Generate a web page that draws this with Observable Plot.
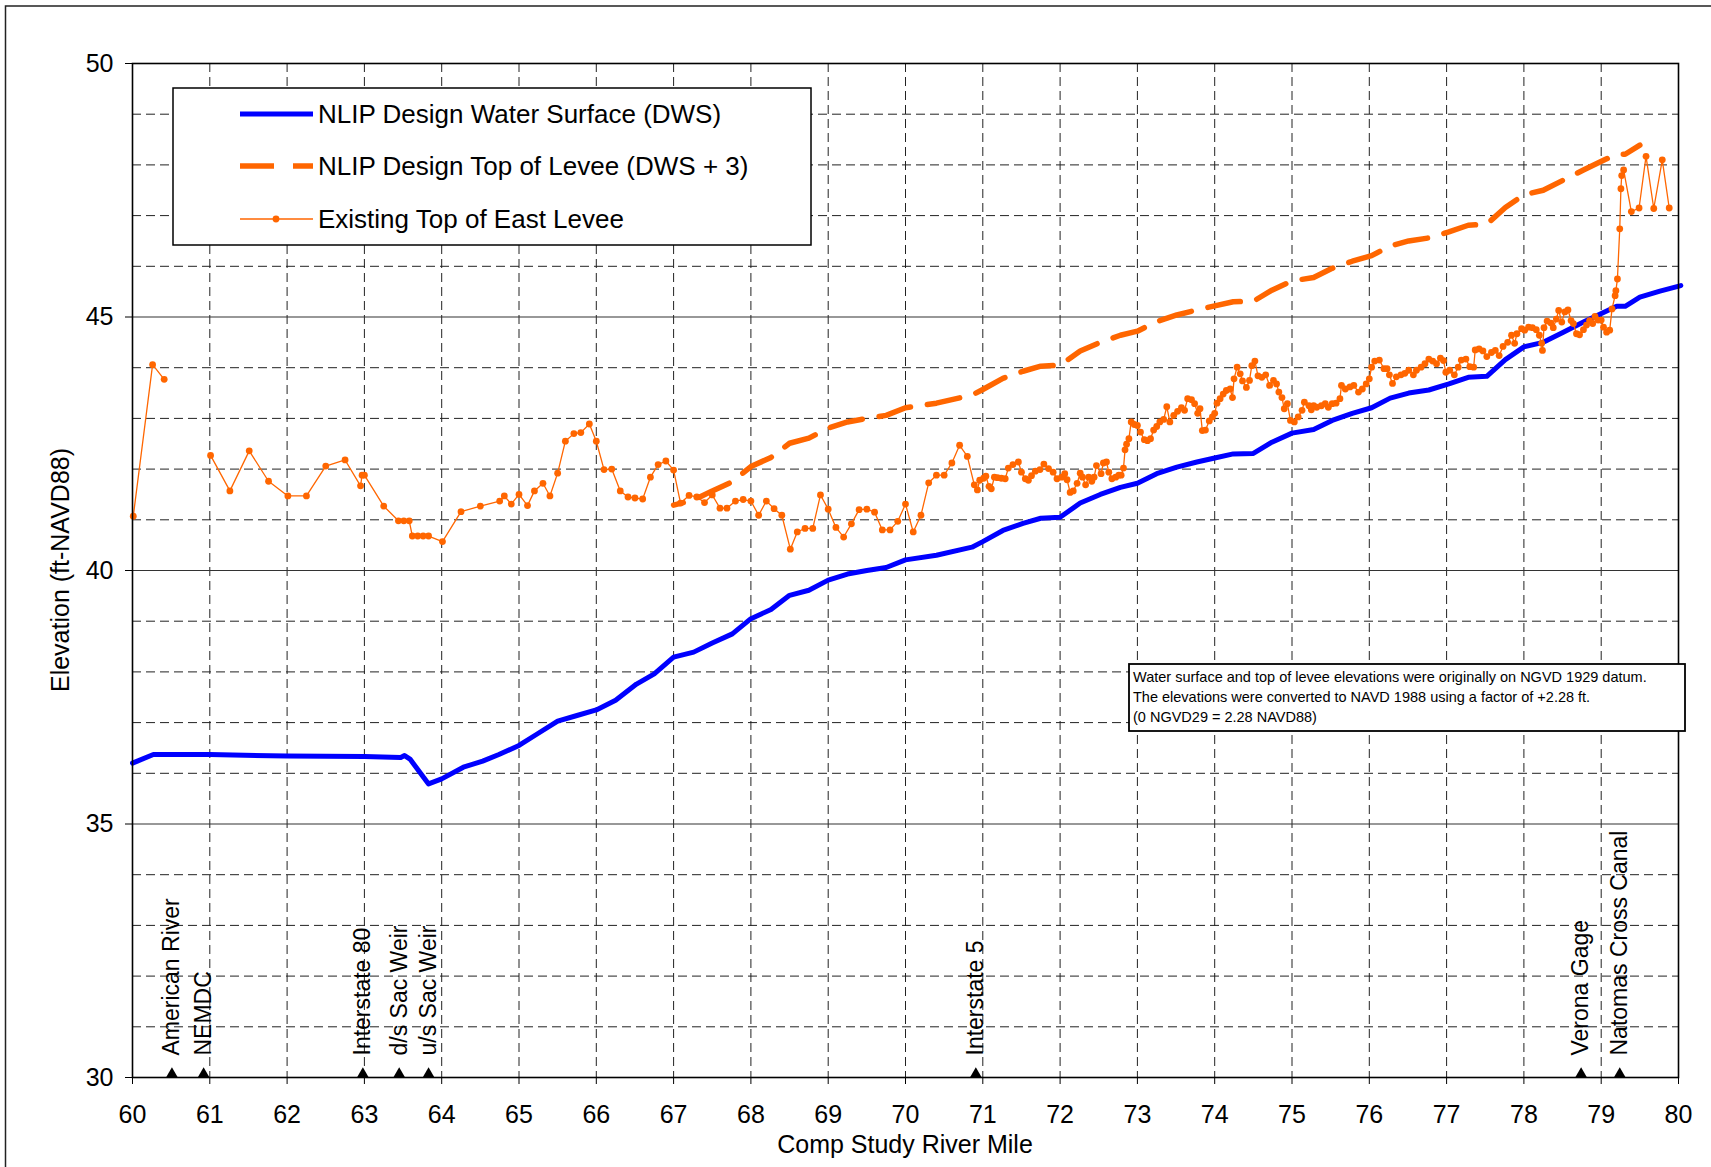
<!DOCTYPE html>
<html>
<head>
<meta charset="utf-8">
<script src="https://cdn.jsdelivr.net/npm/d3@7"></script>
<script src="https://cdn.jsdelivr.net/npm/@observablehq/plot@0.6"></script>
<style>
  html, body { margin: 0; padding: 0; background: #fff; }
  #chart svg { display: block; }
</style>
</head>
<body>
<div id="chart"></div>
<script>
// ---------------- data ----------------
const dwsMile = [60.0,60.27,61.0,62.0,63.0,63.47,63.52,63.59,63.83,64.0,64.28,64.53,64.74,65.0,65.24,65.5,65.75,66.0,66.25,66.52,66.75,67.0,67.26,67.5,67.76,68.0,68.26,68.5,68.75,69.0,69.25,69.5,69.75,70.0,70.4,70.86,71.0,71.26,71.52,71.75,72.0,72.26,72.52,72.78,73.0,73.25,73.51,73.77,74.0,74.24,74.5,74.74,75.0,75.28,75.52,75.78,76.03,76.27,76.51,76.77,77.03,77.28,77.52,77.76,78.0,78.25,78.51,78.77,79.03,79.2,79.31,79.5,79.76,80.03];
const dwsElev = [36.20,36.37,36.37,36.34,36.33,36.31,36.35,36.28,35.79,35.89,36.12,36.24,36.37,36.55,36.78,37.03,37.14,37.25,37.44,37.76,37.96,38.29,38.39,38.57,38.75,39.05,39.23,39.51,39.61,39.81,39.93,40.00,40.06,40.21,40.30,40.46,40.57,40.79,40.93,41.03,41.05,41.33,41.50,41.64,41.72,41.91,42.04,42.14,42.22,42.30,42.31,42.53,42.71,42.78,42.96,43.10,43.21,43.40,43.50,43.56,43.68,43.81,43.83,44.16,44.41,44.50,44.70,44.90,45.09,45.21,45.21,45.39,45.51,45.62];

const tolMile = [67.0,67.26,67.5,67.76,68.0,68.26,68.5,68.75,69.0,69.25,69.5,69.75,70.0,70.4,70.86,71.0,71.26,71.52,71.75,72.0,72.26,72.52,72.78,73.0,73.25,73.51,73.77,74.0,74.24,74.5,74.74,75.0,75.28,75.52,75.78,76.03,76.27,76.51,76.77,77.03,77.28,77.52,77.76,78.0,78.25,78.51,78.77,79.03,79.2,79.31,79.5];
const tolElev = [41.29,41.39,41.57,41.75,42.05,42.23,42.51,42.61,42.81,42.93,43.00,43.06,43.21,43.30,43.46,43.57,43.79,43.93,44.03,44.05,44.33,44.50,44.64,44.72,44.91,45.04,45.14,45.22,45.30,45.31,45.53,45.71,45.78,45.96,46.10,46.21,46.40,46.50,46.56,46.68,46.81,46.83,47.16,47.41,47.50,47.70,47.90,48.09,48.21,48.21,48.39];

const levMile = [60.01,60.26,60.41,60.7,61.01,61.26,61.51,61.76,62.01,62.25,62.50,62.75,62.95,62.97,63.00,63.25,63.44,63.51,63.58,63.62,63.69,63.76,63.83,64.01,64.25,64.50,64.75,64.81,64.90,65.00,65.11,65.20,65.31,65.40,65.50,65.60,65.71,65.80,65.91,66.00,66.10,66.20,66.31,66.41,66.50,66.60,66.70,66.80,66.90,67.00,67.09,67.20,67.30,67.40,67.50,67.60,67.69,67.80,67.90,68.00,68.10,68.20,68.30,68.40,68.51,68.60,68.70,68.80,68.90,69.00,69.10,69.20,69.30,69.40,69.50,69.60,69.70,69.80,69.90,70.00,70.10,70.20,70.30,70.40,70.50,70.60,70.70,70.80,70.89,70.93,70.96,71.01,71.04,71.08,71.11,71.15,71.19,71.24,71.29,71.33,71.39,71.46,71.50,71.55,71.59,71.63,71.68,71.74,71.79,71.85,71.91,71.96,72.02,72.06,72.09,72.13,72.17,72.22,72.26,72.29,72.33,72.37,72.41,72.44,72.47,72.53,72.56,72.60,72.63,72.67,72.72,72.76,72.79,72.82,72.84,72.86,72.89,72.92,72.96,73.00,73.04,73.09,73.13,73.17,73.21,73.25,73.29,73.34,73.38,73.42,73.47,73.52,73.57,73.61,73.65,73.70,73.74,73.78,73.81,73.84,73.88,73.93,73.97,74.00,74.03,74.07,74.11,74.15,74.20,74.23,74.25,74.29,74.33,74.36,74.41,74.45,74.48,74.52,74.56,74.61,74.66,74.71,74.76,74.80,74.83,74.87,74.90,74.94,74.98,75.03,75.08,75.13,75.16,75.22,75.25,75.28,75.32,75.38,75.43,75.47,75.52,75.57,75.62,75.64,75.69,75.75,75.80,75.86,75.91,75.96,76.00,76.03,76.07,76.13,76.19,76.23,76.26,76.30,76.35,76.41,76.46,76.51,76.57,76.61,76.67,76.72,76.77,76.82,76.87,76.92,76.96,76.99,77.04,77.10,77.15,77.19,77.25,77.30,77.35,77.37,77.42,77.47,77.52,77.58,77.63,77.68,77.73,77.79,77.84,77.88,77.91,77.97,78.01,78.06,78.11,78.16,78.20,78.23,78.24,78.26,78.30,78.35,78.38,78.42,78.45,78.49,78.53,78.57,78.61,78.64,78.68,78.72,78.77,78.81,78.85,78.89,78.92,78.96,79.00,79.03,79.07,79.11,79.14,79.18,79.19,79.21,79.24,79.255,79.265,79.29,79.39,79.49,79.58,79.68,79.79,79.88];
const levElev = [41.07,44.06,43.77,null,42.27,41.57,42.36,41.76,41.47,41.47,42.06,42.18,41.67,41.88,41.88,41.27,40.98,40.98,40.98,40.68,40.68,40.68,40.68,40.57,41.16,41.27,41.37,41.47,41.31,41.50,41.28,41.57,41.72,41.47,41.92,42.55,42.70,42.72,42.89,42.55,41.99,42.00,41.57,41.45,41.43,41.41,41.84,42.09,42.16,41.98,41.33,41.48,41.45,41.34,41.49,41.23,41.23,41.37,41.40,41.37,41.09,41.37,41.22,41.09,40.42,40.76,40.83,40.83,41.49,41.21,40.85,40.66,40.92,41.20,41.21,41.15,40.80,40.80,40.97,41.31,40.76,41.09,41.73,41.88,41.88,42.12,42.47,42.25,41.69,41.59,41.78,41.82,41.86,41.66,41.61,41.84,41.83,41.82,41.81,42.02,42.09,42.14,41.94,41.81,41.78,41.87,41.96,41.99,42.10,42.01,41.94,41.81,41.84,41.91,41.79,41.54,41.57,41.72,41.92,41.84,41.69,41.84,41.76,41.84,42.07,41.91,42.12,42.14,41.94,41.81,41.84,41.88,41.88,42.02,42.38,42.49,42.60,42.93,42.88,42.86,42.73,42.58,42.56,42.60,42.77,42.84,42.93,42.98,43.23,42.93,43.06,43.14,43.21,43.16,43.39,43.37,43.29,43.10,43.19,42.76,42.77,42.95,43.03,43.10,43.30,43.39,43.48,43.55,43.58,43.41,43.78,44.01,43.88,43.74,43.61,43.75,44.04,44.13,43.84,43.81,43.86,43.65,43.75,43.68,43.52,43.41,43.19,43.29,42.96,42.93,43.03,43.16,43.32,43.25,43.17,43.25,43.22,43.25,43.29,43.22,43.29,43.30,43.39,43.65,43.58,43.62,43.65,43.52,43.58,43.68,43.78,44.01,44.13,44.15,43.98,43.98,43.86,43.69,43.82,43.86,43.89,43.95,43.86,43.95,44.01,44.08,44.17,44.13,44.08,44.19,44.14,43.91,43.95,43.86,44.01,44.15,44.17,44.02,44.01,44.35,44.37,44.33,44.22,44.30,44.34,44.24,44.42,44.50,44.64,44.48,44.67,44.77,44.74,44.80,44.79,44.75,44.64,44.48,44.34,44.79,44.92,44.88,44.79,44.96,45.13,44.90,45.10,45.14,44.93,44.87,44.67,44.65,44.75,44.84,44.93,44.87,45.01,44.94,44.94,44.80,44.70,44.74,45.16,45.42,45.52,45.75,46.74,47.53,47.79,47.90,47.08,47.15,48.17,47.14,48.10,47.15];

const landmarkNames = ["American River","NEMDC","Interstate 80","d/s Sac Weir","u/s Sac Weir","Interstate 5","Verona Gage","Natomas Cross Canal"];
const landmarkMiles = [60.51,60.92,62.98,63.45,63.83,70.91,78.74,79.24];

const xTicks = d3.range(60, 81, 1);
const yTicks = [30, 35, 40, 45, 50];
const yMajorGrid = [35, 40, 45];
const yMinorGrid = [31,32,33,34,36,37,38,39,41,42,43,44,46,47,48,49];
const xGrid = d3.range(61, 80, 1);

const seriesNames = ["NLIP Design Water Surface (DWS)", "NLIP Design Top of Levee (DWS + 3)", "Existing Top of East Levee"];
const xTitle = "Comp Study River Mile";
const yTitle = "Elevation (ft-NAVD88)";
const noteLines = [
  "Water surface and top of levee elevations were originally on NGVD 1929 datum.",
  "The elevations were converted to NAVD 1988 using a factor of +2.28 ft.",
  "(0 NGVD29 = 2.28 NAVD88)"
];

// ---------------- tables ----------------
const dws = dwsMile.map((m, i) => ({mile: m, elev: dwsElev[i]}));
const tol = tolMile.map((m, i) => ({mile: m, elev: tolElev[i]}));
const lev = levMile.map((m, i) => ({mile: m, elev: levElev[i]}));
const landmarks = landmarkMiles.map((m, i) => ({mile: m, name: landmarkNames[i], base: 30}));

const BLUE = "#0000FF", ORANGE = "#FF6600";
const FONT = "'Liberation Sans', Arial, Helvetica, sans-serif";

const W = 1711, H = 1167;
const mL = 132, mR = 33, mT = 63, mB = 90;

const chart = Plot.plot({
  width: W, height: H,
  marginLeft: mL, marginRight: mR, marginTop: mT, marginBottom: mB,
  style: {fontFamily: FONT, background: "#fff", color: "#000"},
  x: {domain: [60, 80]},
  y: {domain: [30, 50]},
  marks: [
    Plot.ruleX(xGrid, {stroke: "#222", strokeWidth: 1, strokeDasharray: "9,5"}),
    Plot.ruleY(yMinorGrid, {stroke: "#222", strokeWidth: 1, strokeDasharray: "9,5"}),
    Plot.ruleY(yMajorGrid, {stroke: "#333", strokeWidth: 1.2}),
    Plot.axisX({ticks: xTicks, tickSize: 7, tickPadding: 21, fontSize: 25, label: null, tickFormat: d3.format("d")}),
    Plot.axisY({ticks: yTicks, tickSize: 7, tickPadding: 12, fontSize: 25, label: null, tickFormat: d3.format("d")}),
    Plot.line(dws, {x: "mile", y: "elev", stroke: BLUE, strokeWidth: 5, strokeLinejoin: "round"}),
    Plot.line(tol, {x: "mile", y: "elev", stroke: ORANGE, strokeWidth: 5.5, strokeDasharray: "33,17", strokeDashoffset: 23}),
    Plot.line(lev, {x: "mile", y: "elev", stroke: ORANGE, strokeWidth: 1.3}),
    Plot.dot(lev, {x: "mile", y: "elev", r: 3.4, fill: ORANGE, stroke: "none"}),
    Plot.frame({stroke: "#000", strokeWidth: 1.6}),
    Plot.dot(landmarks, {x: "mile", y: "base", symbol: "triangle", r: 4.4, fill: "#000", stroke: "none", dy: -3.4}),
    Plot.text(landmarks, {x: "mile", text: "name", frameAnchor: "bottom", rotate: -90, textAnchor: "start", lineAnchor: "middle", dy: -22, fontSize: 23, fill: "#000"})
  ]
});

document.getElementById("chart").appendChild(chart);

// ---------------- overlays: border, titles, legend, note ----------------
const svg = d3.select(chart);

svg.append("rect").attr("x", 5.5).attr("y", 6).attr("width", W + 20).attr("height", H + 20)
  .attr("fill", "none").attr("stroke", "#222").attr("stroke-width", 1.5);

svg.append("text").attr("x", (mL + W - mR) / 2).attr("y", 1153)
  .attr("text-anchor", "middle").attr("font-size", 25).attr("font-family", FONT).attr("fill", "#000")
  .text(xTitle);

svg.append("text").attr("transform", `translate(69,${(mT + H - mB) / 2}) rotate(-90)`)
  .attr("text-anchor", "middle").attr("font-size", 25).attr("font-family", FONT).attr("fill", "#000")
  .text(yTitle);

// legend
const lg = svg.append("g").attr("font-family", FONT).attr("font-size", 26).attr("text-anchor", "start");
lg.append("rect").attr("x", 173).attr("y", 88).attr("width", 638).attr("height", 157)
  .attr("fill", "#fff").attr("stroke", "#000").attr("stroke-width", 1.5);
const rowsY = [114, 166, 219];
lg.append("line").attr("x1", 240).attr("x2", 313).attr("y1", rowsY[0]).attr("y2", rowsY[0])
  .attr("stroke", BLUE).attr("stroke-width", 5);
lg.append("line").attr("x1", 240).attr("x2", 313).attr("y1", rowsY[1]).attr("y2", rowsY[1])
  .attr("stroke", ORANGE).attr("stroke-width", 5.5).attr("stroke-dasharray", "34,19");
lg.append("line").attr("x1", 240).attr("x2", 313).attr("y1", rowsY[2]).attr("y2", rowsY[2])
  .attr("stroke", ORANGE).attr("stroke-width", 1.3);
lg.append("circle").attr("cx", 276).attr("cy", rowsY[2]).attr("r", 3.4).attr("fill", ORANGE);
seriesNames.forEach((s, i) => {
  lg.append("text").attr("x", 318).attr("y", rowsY[i]).attr("dy", "0.36em")
    .attr("text-anchor", "start").attr("fill", "#000").text(s);
});

// note box
const ng = svg.append("g").attr("font-family", FONT).attr("font-size", 14.5).attr("text-anchor", "start");
ng.append("rect").attr("x", 1129).attr("y", 664).attr("width", 556).attr("height", 67)
  .attr("fill", "#fff").attr("stroke", "#000").attr("stroke-width", 1.8);
noteLines.forEach((t, i) => {
  ng.append("text").attr("x", 1133).attr("y", 682 + i * 20)
    .attr("text-anchor", "start").attr("fill", "#000").text(t);
});
</script>
</body>
</html>
